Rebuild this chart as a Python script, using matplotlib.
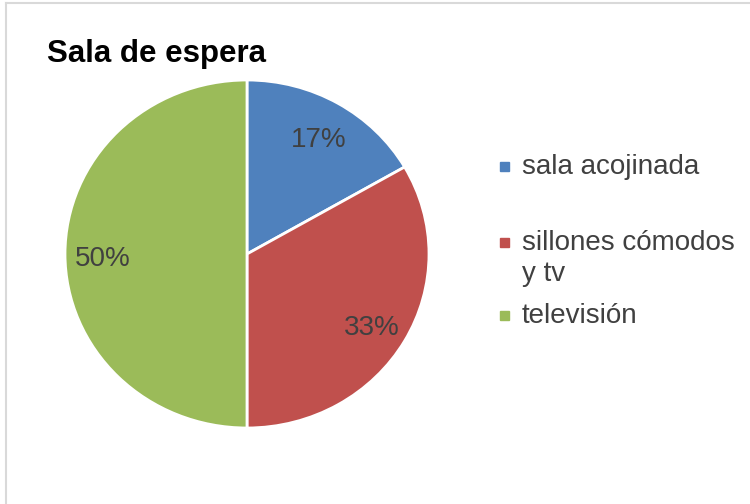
import matplotlib.pyplot as plt
from matplotlib.patches import Rectangle
from matplotlib.lines import Line2D

plt.rcParams['font.family'] = ['Liberation Sans', 'DejaVu Sans']

# data
labels = ['sala acojinada', 'sillones cómodos\ny tv', 'televisión']
values = [1, 2, 3]
colors = ['#4F81BD', '#C0504D', '#9BBB59']
title = 'Sala de espera'

W, H = 750, 504
fig = plt.figure(figsize=(W / 100, H / 100), dpi=100)

# chart border (top and left visible)
fig.add_artist(Line2D([6 / W, 1], [1 - 3 / H, 1 - 3 / H], color='#d9d9d9', lw=1.5))
fig.add_artist(Line2D([6 / W, 6 / W], [0, 1 - 3 / H], color='#d9d9d9', lw=1.5))

# pie is slightly stretched horizontally in the reference
cx, cy, rx, ry = 247, 254, 182, 174
ax = fig.add_axes([(cx - rx) / W, (H - cy - ry) / H, 2 * rx / W, 2 * ry / H])
wedges, texts, autotexts = ax.pie(
    values, colors=colors, startangle=90, counterclock=False,
    autopct='%.0f%%', pctdistance=0.79, radius=1,
    wedgeprops=dict(edgecolor='white', linewidth=2),
    textprops=dict(color='#404040', fontsize=20))
# nudge labels a little down (Excel centres on the digits)
for t in autotexts:
    x, y = t.get_position()
    t.set_position((x, y - 0.03))
ax.set_xlim(-1, 1)
ax.set_ylim(-1, 1)
ax.set_aspect('auto')
ax.axis('off')

fig.text(47 / W, 1 - 54 / H, title, fontsize=22.5, fontweight='bold',
         ha='left', va='center', color='black')

# legend
legend_y = [168, 244, 317]
for lab, col, y in zip(labels, colors, legend_y):
    fig.add_artist(Rectangle((500 / W, 1 - (y + 3) / H), 9 / W, 9 / H,
                             transform=fig.transFigure, color=col))
    fig.text(522 / W, 1 - (y - 14) / H, lab, fontsize=20, color='#404040',
             ha='left', va='top', linespacing=1.25)

fig.savefig('out.png', dpi=100, facecolor='white')
